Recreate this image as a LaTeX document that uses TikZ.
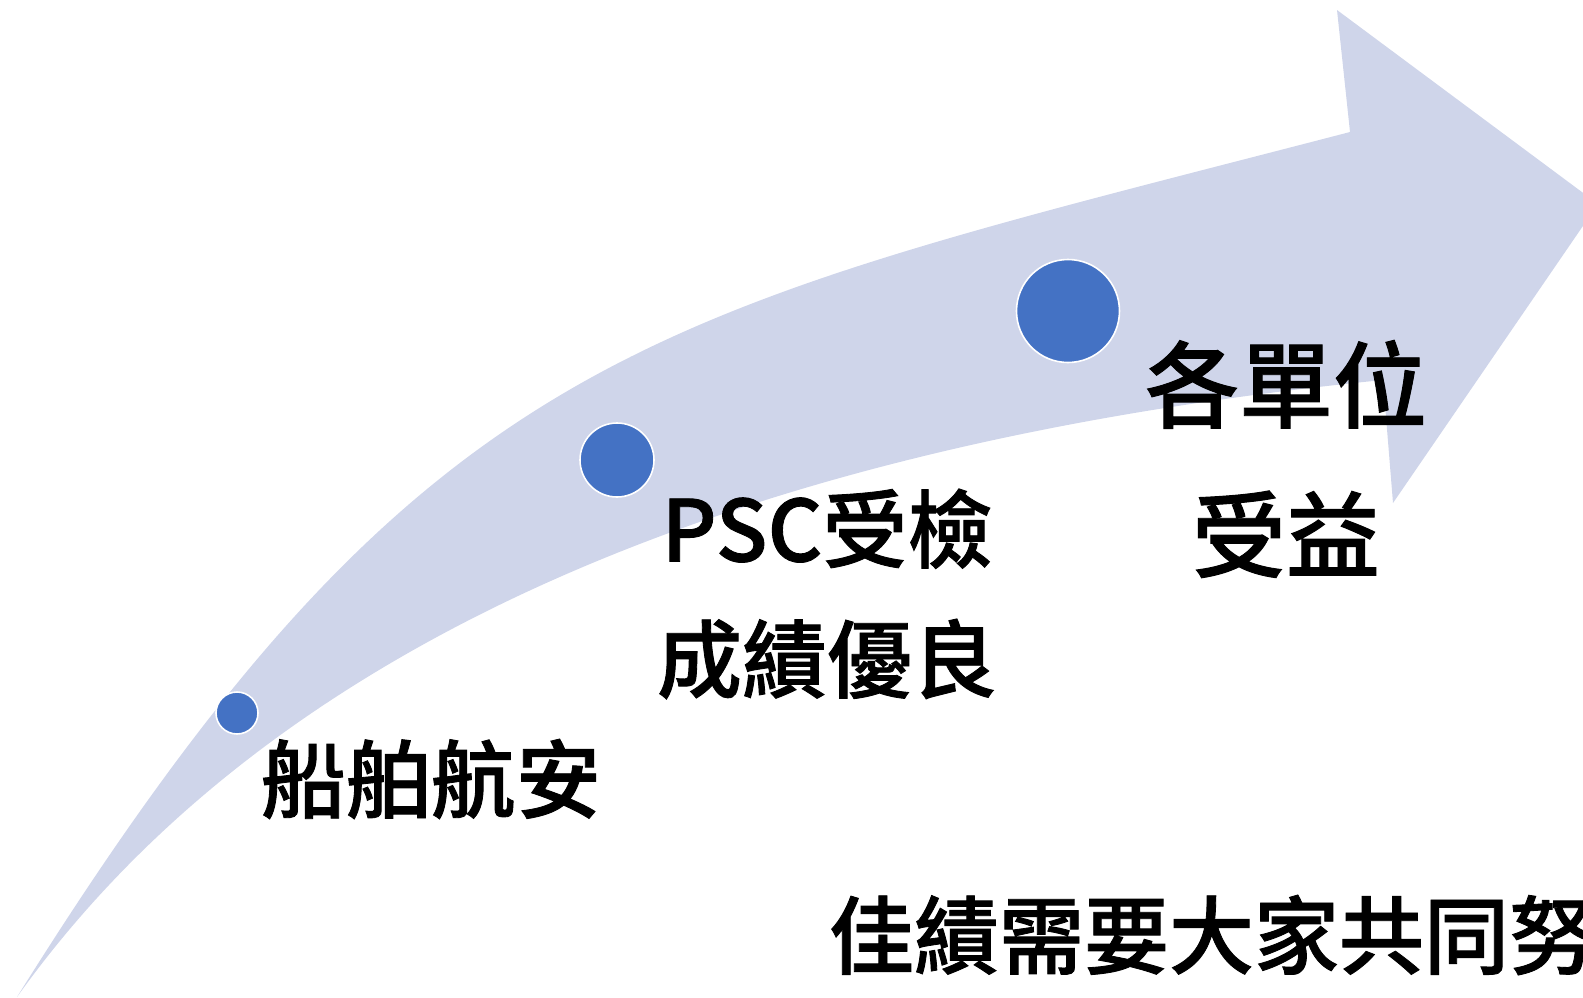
\documentclass[tikz,border=0pt]{standalone}
\usepackage{fontspec}
\newfontfamily\cjk{Noto Sans CJK TC Medium}[FakeBold=1]
\definecolor{bandcol}{HTML}{CFD5EA}
\definecolor{dotcol}{HTML}{4472C4}
\tikzset{
  dot/.style={circle, fill=dotcol, draw=white, line width=1.6pt, inner sep=0pt},
  lbl/.style={inner sep=0pt, outer sep=0pt, text=black, font=\cjk\fontsize{85}{130}\selectfont, align=center}
}
\begin{document}
\begin{tikzpicture}[x=1pt, y=-1pt]
\useasboundingbox (0,0) rectangle (1583,997);
\clip (0,0) rectangle (1583,997);
% curved arrow band
\fill[bandcol]
  (17,997) .. controls (427,341) and (650,314) .. (1350,132)
  -- (1337,10) -- (1598,204) -- (1393,503) -- (1383,380)
  .. controls (883,430) and (317,577) .. (17,997)
  -- cycle;
% dots
\node[dot, minimum size=42pt] (c1) at (237,713) {};
\node[dot, minimum size=74pt] (c2) at (617,460) {};
\node[dot, minimum size=103pt] (c3) at (1068,311) {};
% labels
\node[lbl] (t1) at (431,779) {船舶航安};
\node[lbl] (t2) at (827,594) {PSC受檢\\成績優良};
\node[lbl, font=\cjk\fontsize{94}{150}\selectfont] (t3) at (1286,459) {各單位\\受益};
\node[lbl, anchor=west] (t4) at (829,935) {佳績需要大家共同努力};
\end{tikzpicture}
\end{document}
